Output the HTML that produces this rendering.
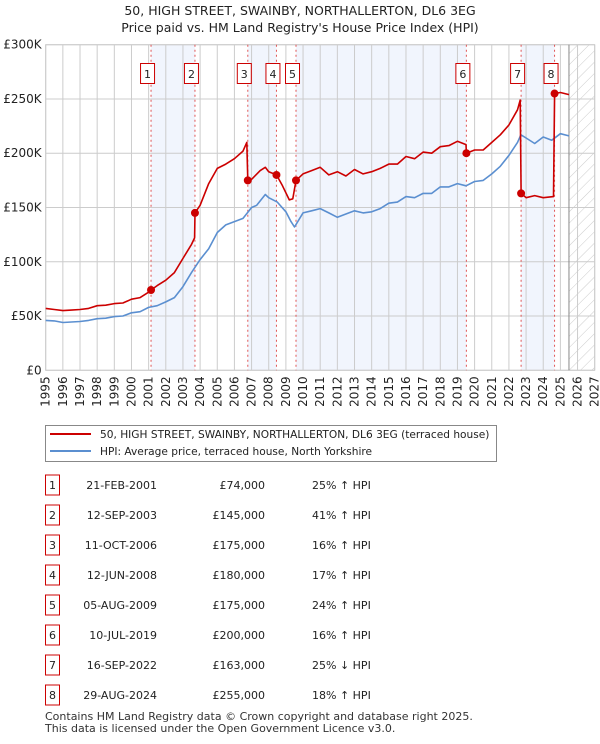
<!DOCTYPE html>
<html><head><meta charset="utf-8"><style>
body{margin:0;background:#fff;font-family:"DejaVu Sans","Liberation Sans",sans-serif;}
svg text{font-family:"DejaVu Sans","Liberation Sans",sans-serif;}
</style></head><body>
<svg id="chart" width="600" height="740" viewBox="0 0 600 740" xmlns="http://www.w3.org/2000/svg">
<defs><pattern id="hatch" width="8" height="8" patternUnits="userSpaceOnUse" patternTransform="rotate(45)"><line x1="0" y1="0" x2="0" y2="8" stroke="#ccc" stroke-width="1"/></pattern></defs>
<text x="300" y="15" text-anchor="middle" font-size="12.5" fill="#222">50, HIGH STREET, SWAINBY, NORTHALLERTON, DL6 3EG</text>
<text x="300" y="32" text-anchor="middle" font-size="12.5" fill="#222">Price paid vs. HM Land Registry's House Price Index (HPI)</text>
<g id="plot"></g>
<g>
<rect x="45.5" y="425.5" width="451" height="36" fill="#fff" stroke="#888"/>
<line x1="50" y1="434" x2="91" y2="434" stroke="#cc0000" stroke-width="2"/>
<text x="100" y="438" font-size="10.6" fill="#222">50, HIGH STREET, SWAINBY, NORTHALLERTON, DL6 3EG (terraced house)</text>
<line x1="50" y1="451" x2="91" y2="451" stroke="#5b8fd0" stroke-width="2"/>
<text x="100" y="455" font-size="10.6" fill="#222">HPI: Average price, terraced house, North Yorkshire</text>
</g>
<g id="table"></g>
<text x="45" y="720" font-size="11" fill="#333">Contains HM Land Registry data © Crown copyright and database right 2025.</text>
<text x="45" y="732" font-size="11" fill="#333">This data is licensed under the Open Government Licence v3.0.</text>
</svg>
<script>
const years=[1995,1996,1997,1998,1999,2000,2001,2002,2003,2004,2005,2006,2007,2008,2009,2010,2011,2012,2013,2014,2015,2016,2017,2018,2019,2020,2021,2022,2023,2024,2025,2026,2027];
const yTicks=[0,50000,100000,150000,200000,250000,300000];
const yTickLabels=["£0","£50K","£100K","£150K","£200K","£250K","£300K"];
const hpiT=[1995,1995.5,1996,1996.5,1997,1997.5,1998,1998.5,1999,1999.5,2000,2000.5,2001,2001.5,2002,2002.5,2003,2003.5,2004,2004.5,2005,2005.5,2006,2006.5,2007,2007.3,2007.8,2008,2008.5,2009,2009.3,2009.5,2010,2010.5,2011,2011.5,2012,2012.5,2013,2013.5,2014,2014.5,2015,2015.5,2016,2016.5,2017,2017.5,2018,2018.5,2019,2019.5,2020,2020.5,2021,2021.5,2022,2022.5,2022.7,2023,2023.5,2024,2024.5,2025,2025.5];
const hpiV=[46,45.5,44,44.5,45,46,47.5,48,49.5,50,53,54,58,59.5,63,67,77,90,102,112,127,134,137,140,150,152,162,159,155,146,137,132,145,147,149,145,141,144,147,145,146,149,154,155,160,159,163,163,169,169,172,170,174,175,181,188,198,210,217,214,209,215,212,218,216];
const redT=[1995,1995.5,1996,1996.5,1997,1997.5,1998,1998.5,1999,1999.5,2000,2000.5,2001,2001.14,2001.5,2002,2002.5,2003,2003.5,2003.68,2003.7,2004,2004.5,2005,2005.5,2006,2006.5,2006.72,2006.78,2007,2007.5,2007.8,2008,2008.45,2008.8,2009.2,2009.4,2009.59,2010,2010.5,2011,2011.5,2012,2012.5,2013,2013.5,2014,2014.5,2015,2015.5,2016,2016.5,2017,2017.5,2018,2018.5,2019,2019.5,2019.52,2020,2020.5,2021,2021.5,2022,2022.5,2022.66,2022.71,2023,2023.5,2024,2024.6,2024.66,2025,2025.5];
const redV=[57,56,55,55.5,56,57,59.5,60,61.5,62,65.5,67,72,74,78,83,90,103,116,122,145,152,172,186,190,195,202,210,175,176,184,187,183,180,170,157,158,175,181,184,187,180,183,179,185,181,183,186,190,190,197,195,201,200,206,207,211,208,200,203,203,210,217,226,240,249,163,159,161,159,160,255,256,254];
const saleT=[2001.14,2003.70,2006.78,2008.45,2009.59,2019.52,2022.71,2024.66];
const saleV=[74,145,175,180,175,200,163,255];
const saleDates=["21-FEB-2001","12-SEP-2003","11-OCT-2006","12-JUN-2008","05-AUG-2009","10-JUL-2019","16-SEP-2022","29-AUG-2024"];
const salePrices=["£74,000","£145,000","£175,000","£180,000","£175,000","£200,000","£163,000","£255,000"];
const saleHpi=["25% ↑ HPI","41% ↑ HPI","16% ↑ HPI","17% ↑ HPI","24% ↑ HPI","16% ↑ HPI","25% ↓ HPI","18% ↑ HPI"];

const L=45.7,R=594.7,T=44.7,B=370.3;
const xs=t=>L+(t-1995)*(R-L)/32;
const ys=v=>B-v*(B-T)/300000;
const NS="http://www.w3.org/2000/svg";
const g=document.getElementById('plot');
function mk(tag,attrs,parent){const e=document.createElementNS(NS,tag);for(const k in attrs)e.setAttribute(k,attrs[k]);(parent||g).appendChild(e);return e;}

for(let i=0;i<saleT.length;i+=2){
 const b=mk('rect',{x:xs(saleT[i]),y:T,width:xs(saleT[i+1])-xs(saleT[i]),height:B-T,fill:'#eef3fc',opacity:0.8});
 
 
}
const h=mk('rect',{x:xs(2025.5),y:T,width:R-xs(2025.5),height:B-T,fill:'url(#hatch)'});


years.forEach(y=>{
 const l=mk('line',{x1:xs(y),x2:xs(y),y1:T,y2:B,stroke:'#ccc','stroke-width':1});
 
 
 const t=mk('text',{x:0,y:0,transform:`translate(${xs(y)+4},${B+6}) rotate(-90)`,'text-anchor':'end','font-size':12,fill:'#222'});
 t.textContent=y;
 
 
});
yTicks.forEach((v,i)=>{
 const l=mk('line',{x1:L,x2:R,y1:ys(v),y2:ys(v),stroke:'#ccc','stroke-width':1});
 
 
 const t=mk('text',{x:L-4,y:ys(v)+4,'text-anchor':'end','font-size':12,fill:'#222'});
 t.textContent=yTickLabels[i];
 
 
});
const fr=mk('rect',{x:L,y:T,width:R-L,height:B-T,fill:'none',stroke:'#ccc'});


const nl=mk('line',{x1:xs(2025.5),x2:xs(2025.5),y1:T,y2:B,stroke:'#888','stroke-width':1});


saleT.forEach((t,i)=>{
 const l=mk('line',{x1:xs(t),x2:xs(t),y1:T,y2:B,stroke:'#e05555','stroke-width':1,'stroke-dasharray':'2,3'});
 
 
 const cx=xs(t)-3.5;
 const bx=mk('rect',{x:cx-7,y:63.5,width:14,height:20,fill:'#fff',stroke:'#cc0000'});
 
 
 const tx=mk('text',{x:cx,y:78,'text-anchor':'middle','font-size':11,fill:'#222'});
 tx.textContent=i+1;
 
 
});
function path(T_,V_,col,name){
 const d=T_.map((t,i)=>(i?'L':'M')+xs(t).toFixed(1)+','+ys(V_[i]*1000).toFixed(1)).join('');
 const p=mk('path',{d:d,fill:'none',stroke:col,'stroke-width':1.6,'stroke-linejoin':'round'});
 
 
}
path(hpiT,hpiV,'#5b8fd0','hpi-line');
path(redT,redV,'#cc0000','property-price-line');
saleT.forEach((t,i)=>{
 const c=mk('circle',{cx:xs(t),cy:ys(saleV[i]*1000),r:4,fill:'#cc0000'});
 
 
});
const tb=document.getElementById('table');
saleDates.forEach((d,i)=>{
 const y=485+i*30;
 const bx=mk('rect',{x:45.5,y:y-10,width:14,height:20,fill:'#fff',stroke:'#cc0000'},tb);
 
 
 const n=mk('text',{x:52.5,y:y+4,'text-anchor':'middle','font-size':11,fill:'#222'},tb);
 n.textContent=i+1;
 
 
 const a=mk('text',{x:157,y:y+4,'text-anchor':'end','font-size':11,fill:'#222'},tb);
 a.textContent=d;
 
 
 const b=mk('text',{x:265,y:y+4,'text-anchor':'end','font-size':11,fill:'#222'},tb);
 b.textContent=salePrices[i];
 
 
 const c=mk('text',{x:312,y:y+4,'font-size':11,fill:'#222'},tb);
 c.textContent=saleHpi[i];
 
 
});
</script>
</body></html>
